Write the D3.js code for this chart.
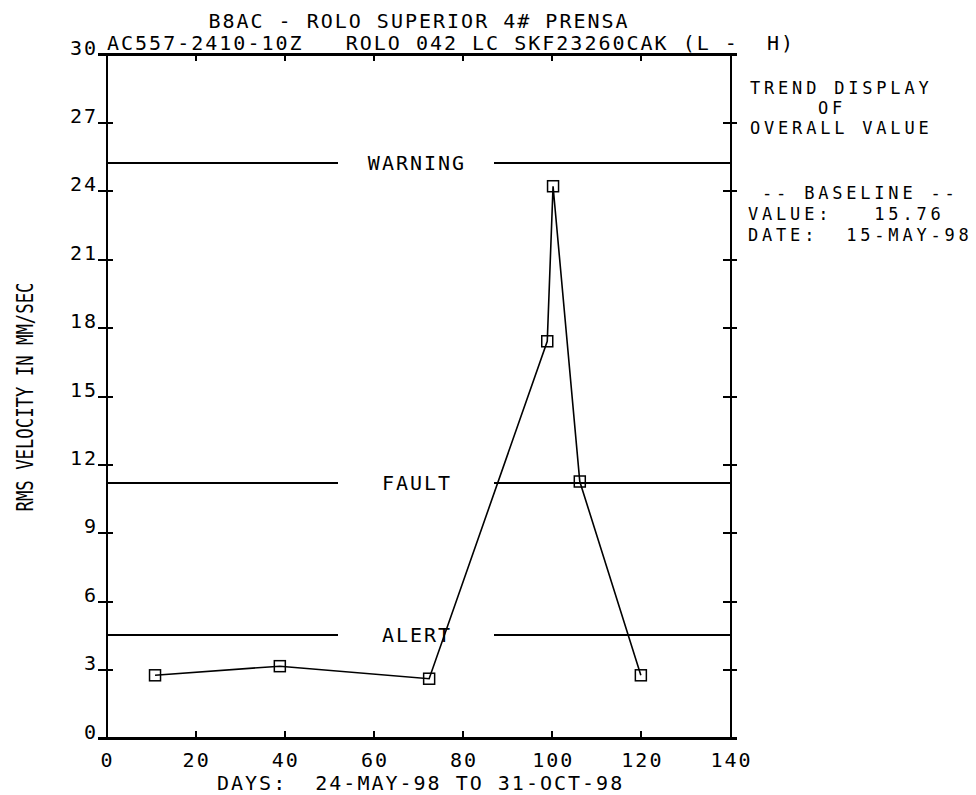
<!DOCTYPE html>
<html>
<head>
<meta charset="utf-8">
<script src="https://cdn.jsdelivr.net/npm/d3@7"></script>
<style>
  body { margin: 0; background: #fff; }
  svg text {
    font-family: "DejaVu Sans Mono", "Liberation Mono", monospace;
    font-size: 20px;
    letter-spacing: 2px;
    fill: #000;
    white-space: pre;
  }
  svg text.note, svg text.base { font-size: 17px; letter-spacing: 3.8px; }
  .axis path, .axis line { stroke: #000; stroke-width: 2px; shape-rendering: crispEdges; }
</style>
</head>
<body>
<div id="chart"></div>
<script>
// trend readings (days since start, rms velocity mm/sec)
var days = [11, 39, 72.5, 99, 100.3, 106.3, 120];
var velocity = [2.75, 3.15, 2.6, 17.4, 24.2, 11.25, 2.75];

// alarm levels
var alarmNames = ["WARNING", "FAULT", "ALERT"];
var alarmValues = [25.2, 11.2, 4.5];

// tick values
var xTicks = [0, 20, 40, 60, 80, 100, 120, 140];
var yTicks = [0, 3, 6, 9, 12, 15, 18, 21, 24, 27, 30];

// texts
var titleTop = "B8AC - ROLO SUPERIOR 4# PRENSA";
var titleSub = "AC557-2410-10Z   ROLO 042 LC SKF23260CAK (L -  H)";
var xTitle = "DAYS:  24-MAY-98 TO 31-OCT-98";
var yTitle = "RMS VELOCITY IN MM/SEC";
var sideNote = ["TREND DISPLAY", "OF", "OVERALL VALUE"];
var baselineNote = [" -- BASELINE --", "VALUE:   15.76", "DATE:  15-MAY-98"];

// dimensions
var margin = {top: 54, right: 246, bottom: 57, left: 106},
    fullW = 976, fullH = 795,
    width = fullW - margin.left - margin.right,
    height = fullH - margin.top - margin.bottom;

var x = d3.scaleLinear().domain([0, 140]).range([0, width]);
var y = d3.scaleLinear().domain([0, 30]).range([height, 0]);

var svg = d3.select("#chart")
  .append("svg")
  .attr("width", fullW)
  .attr("height", fullH);

var plot = svg.append("g")
  .attr("transform", "translate(" + margin.left + "," + margin.top + ")");

// left axis with labels, ticks crossing the axis
plot.append("g")
  .attr("class", "axis")
  .call(d3.axisLeft(y).tickValues(yTicks).tickSize(8).tickSizeOuter(8).tickPadding(0).tickFormat(d3.format("d")))
  .call(function(g){
    g.selectAll("text").attr("dy", "0").attr("x", -8).attr("font-size", null);
  });
plot.append("g")
  .attr("class", "axis")
  .call(d3.axisRight(y).tickValues(yTicks).tickSize(7).tickSizeOuter(0).tickFormat(""));

// right axis, ticks crossing
var right = plot.append("g").attr("class", "axis").attr("transform", "translate(" + width + ",0)");
right.call(d3.axisLeft(y).tickValues(yTicks).tickSize(7).tickSizeOuter(0).tickFormat(""));
right.call(function(g){ g.select(".domain").remove(); });
plot.append("g")
  .attr("class", "axis")
  .attr("transform", "translate(" + width + ",0)")
  .call(d3.axisRight(y).tickValues(yTicks).tickSize(7).tickSizeOuter(7).tickFormat(""));

// bottom axis, ticks pointing inside
plot.append("g")
  .attr("class", "axis")
  .attr("transform", "translate(0," + height + ")")
  .call(d3.axisTop(x).tickValues(xTicks).tickSize(7).tickSizeOuter(0).tickFormat(""));
plot.append("g")
  .attr("class", "axis")
  .attr("transform", "translate(0," + height + ")")
  .call(d3.axisBottom(x).tickValues(xTicks).tickSize(0).tickPadding(0).tickFormat(d3.format("d")))
  .call(function(g){
    g.select(".domain").remove();
    g.selectAll("text").attr("dy", "0").attr("y", 29).attr("dx", "1");
  });
// bottom line extends to the cross ticks
plot.append("line")
  .attr("x1", -8).attr("x2", width + 7)
  .attr("y1", height).attr("y2", height)
  .attr("stroke", "#000").attr("stroke-width", 2).style("shape-rendering", "crispEdges");

// top axis, ticks pointing inside
plot.append("g")
  .attr("class", "axis")
  .call(d3.axisBottom(x).tickValues(xTicks).tickSize(7).tickSizeOuter(0).tickFormat(""));
plot.append("line")
  .attr("x1", -8).attr("x2", width + 7)
  .attr("y1", 0).attr("y2", 0)
  .attr("stroke", "#000").attr("stroke-width", 2).style("shape-rendering", "crispEdges");

plot.selectAll(".axis text").attr("fill", "#000").attr("font-family", null);

// alarm lines with a gap for the name
var gapHalf = 78, labelX = x(70) - 2;
var alarms = plot.selectAll(".alarm")
  .data(alarmNames)
  .enter().append("g")
  .attr("class", "alarm");

alarms.append("line")
  .attr("x1", 0).attr("x2", labelX - gapHalf)
  .attr("y1", function(d, i){ return y(alarmValues[i]); })
  .attr("y2", function(d, i){ return y(alarmValues[i]); });
alarms.append("line")
  .attr("x1", labelX + gapHalf).attr("x2", width)
  .attr("y1", function(d, i){ return y(alarmValues[i]); })
  .attr("y2", function(d, i){ return y(alarmValues[i]); });
alarms.selectAll("line")
  .attr("stroke", "#000").attr("stroke-width", 2).style("shape-rendering", "crispEdges");
alarms.append("text")
  .attr("x", labelX + 1)
  .attr("y", function(d, i){ return y(alarmValues[i]) + 7; })
  .attr("text-anchor", "middle")
  .text(function(d){ return d; });

// trend line
var points = days.map(function(d, i){ return [d, velocity[i]]; });
var line = d3.line()
  .x(function(d){ return x(d[0]); })
  .y(function(d){ return y(d[1]); });

plot.append("path")
  .datum(points)
  .attr("d", line)
  .attr("fill", "none")
  .attr("stroke", "#000")
  .attr("stroke-width", 1.6);

// square markers
var box = 11;
plot.selectAll(".marker")
  .data(points)
  .enter().append("rect")
  .attr("class", "marker")
  .attr("x", function(d){ return x(d[0]) - box / 2; })
  .attr("y", function(d){ return y(d[1]) - box / 2; })
  .attr("width", box)
  .attr("height", box)
  .attr("fill", "none")
  .attr("stroke", "#000")
  .attr("stroke-width", 1.5);

// titles
svg.append("text")
  .attr("x", margin.left + width / 2 + 1)
  .attr("y", 28)
  .attr("text-anchor", "middle")
  .text(titleTop);

svg.append("text")
  .attr("x", 107)
  .attr("y", 50)
  .text(titleSub);

svg.append("text")
  .attr("x", 217)
  .attr("y", 790)
  .text(xTitle);

// y axis title, tall and narrow
svg.append("text")
  .attr("transform", "translate(33,397) rotate(-90)")
  .attr("text-anchor", "middle")
  .attr("textLength", 229)
  .attr("lengthAdjust", "spacingAndGlyphs")
  .style("font-size", "23px")
  .style("letter-spacing", "0px")
  .text(yTitle);

// side notes
var noteX = [750, 818, 750];
var noteY = [94, 114, 134];
svg.selectAll(".note")
  .data(sideNote)
  .enter().append("text")
  .attr("class", "note")
  .attr("x", function(d, i){ return noteX[i]; })
  .attr("y", function(d, i){ return noteY[i]; })
  .text(function(d){ return d; });

var baseY = [199, 220, 241];
svg.selectAll(".base")
  .data(baselineNote)
  .enter().append("text")
  .attr("class", "base")
  .attr("x", 748)
  .attr("y", function(d, i){ return baseY[i]; })
  .text(function(d){ return d; });
</script>
</body>
</html>
